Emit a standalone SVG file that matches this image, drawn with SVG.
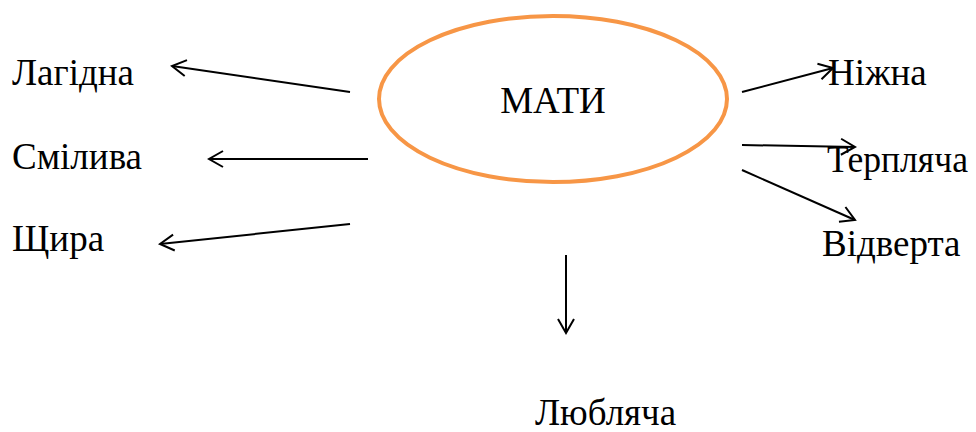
<svg xmlns="http://www.w3.org/2000/svg" width="976" height="432" viewBox="0 0 976 432">
<defs>
<marker id="ah" viewBox="-16 -10 18 20" markerWidth="18" markerHeight="20" refX="0" refY="0" orient="auto" markerUnits="userSpaceOnUse">
<path d="M-14,-8 L0,0 L-14,8" fill="none" stroke="#000" stroke-width="2"/>
</marker>
<style>
.t{font-size:37px;fill:#000}
.c{stroke:#000;stroke-width:2;fill:none;marker-end:url(#ah)}
.n{fill:#fff;stroke:#F79646;stroke-width:4}
</style>
</defs>
<rect width="976" height="432" fill="#fff"/>
<g font-family="Liberation Serif, Times New Roman, serif">
<g id="mati">
<ellipse class="n" cx="553" cy="99" rx="174" ry="83"/>
<text class="t" x="553" y="113" text-anchor="middle">МАТИ</text>
</g>
<g id="lagidna"><text class="t" x="12" y="85">Лагідна</text></g>
<g id="smilyva"><text class="t" x="12" y="169">Смілива</text></g>
<g id="shchyra"><text class="t" x="12" y="251">Щира</text></g>
<g id="nizhna"><text class="t" x="828" y="85">Ніжна</text></g>
<g id="terplyacha"><text class="t" x="827" y="172" textLength="141" lengthAdjust="spacingAndGlyphs">Терпляча</text></g>
<g id="vidverta"><text class="t" x="822" y="256">Відверта</text></g>
<g id="lyublyacha"><text class="t" x="535" y="425">Любляча</text></g>
</g>
<g id="connectors">
<line class="c" x1="350" y1="92" x2="172" y2="66"/>
<line class="c" x1="368" y1="159" x2="209" y2="159"/>
<line class="c" x1="350" y1="224" x2="160" y2="244"/>
<line class="c" x1="742" y1="92" x2="833" y2="68"/>
<line class="c" x1="742" y1="145" x2="855" y2="147"/>
<line class="c" x1="742" y1="170" x2="855" y2="220"/>
<line class="c" x1="566" y1="255" x2="566" y2="333"/>
</g>
</svg>
